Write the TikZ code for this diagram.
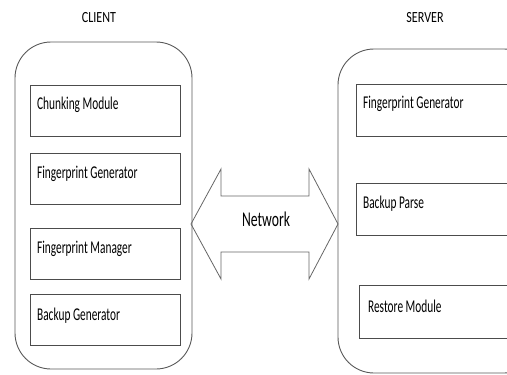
\documentclass[tikz,border=0pt]{standalone}
\usepackage{fontspec}
\setmainfont{Carlito}
\begin{document}
\begin{tikzpicture}[x=1pt,y=-1pt,
  outer/.style={draw=black!65,line width=0.9pt,rounded corners=36pt},
  modbox/.style={draw=black!70,line width=1pt},
  lbl/.style={font=\fontsize{18}{20}\selectfont,anchor=west,inner sep=0pt,xscale=0.63,transform shape},
  title/.style={font=\fontsize{15.5}{17}\selectfont,inner sep=0pt,xscale=0.78,transform shape}]
\useasboundingbox (0,0) rectangle (507,375);
\clip (0,0) rectangle (507,375);
% titles
\node[title] (client) at (99,18) {CLIENT};
\node[title] (server) at (425,18) {SERVER};
% outer rounded boxes
\draw[outer] (15,42) rectangle (192,369);
\draw[outer] (338,49) rectangle (540,373);
% client modules
\draw[modbox] (30,85) rectangle (180,136);
\draw[modbox] (30,153) rectangle (180,204);
\draw[modbox] (30,228) rectangle (180,279);
\draw[modbox] (30,294) rectangle (180,345);
\node[lbl] (c1) at (37,105) {Chunking Module};
\node[lbl] (c2) at (37,174) {Fingerprint Generator};
\node[lbl] (c3) at (37,249) {Fingerprint Manager};
\node[lbl] (c4) at (37,316) {Backup Generator};
% server modules
\draw[modbox] (356,84) rectangle (520,136);
\draw[modbox] (356,183) rectangle (520,235);
\draw[modbox] (359,285) rectangle (520,338);
\node[lbl] (s1) at (363,104) {Fingerprint Generator};
\node[lbl] (s2) at (363,204) {Backup Parse};
\node[lbl] (s3) at (368,306) {Restore Module};
% network double arrow
\draw[draw=black!60,line width=0.8pt,line join=miter]
  (191,224) -- (221,169) -- (221,196) -- (309,196) -- (309,169) -- (338,224)
  -- (309,279) -- (309,252) -- (221,252) -- (221,279) -- cycle;
\node[font=\fontsize{21}{23}\selectfont,inner sep=0pt,xscale=0.65,transform shape] (net) at (266,219) {Network};
\end{tikzpicture}
\end{document}
